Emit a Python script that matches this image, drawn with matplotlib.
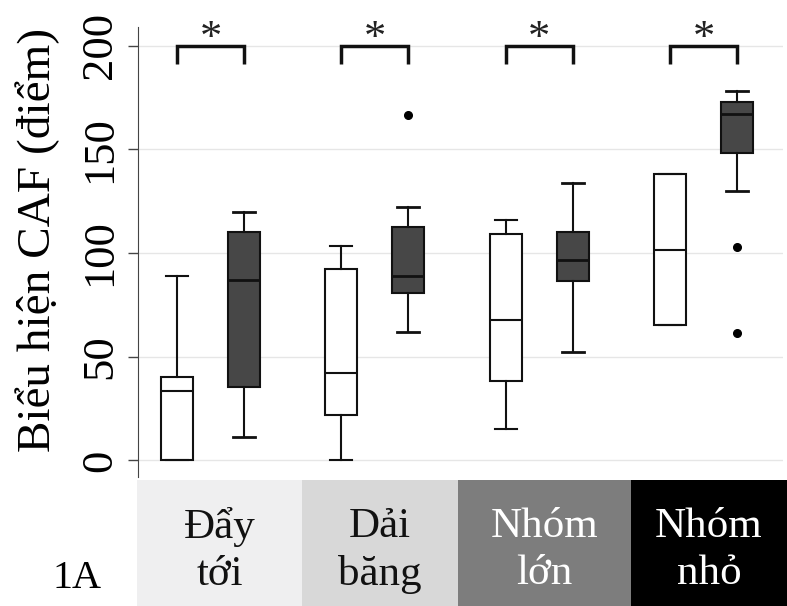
import matplotlib.pyplot as plt
from matplotlib.patches import Rectangle

plt.rcParams["font.family"] = ["Liberation Serif", "DejaVu Serif"]

groups = ["Đẩy\ntới", "Dải\nbăng", "Nhóm\nlớn", "Nhóm\nnhỏ"]
panel_colors = ["#efeff0", "#d8d8d8", "#7d7d7d", "#000000"]
label_colors = ["#111111", "#111111", "#ffffff", "#ffffff"]

# box statistics per group: (whislo, q1, med, q3, whishi)
white_stats = [
    (0, 0, 33.5, 40, 89),
    (0, 22, 42, 92.5, 103.5),
    (15, 38.5, 67.5, 109, 116),
    (65.5, 65.5, 101.5, 138, 138),
]
dark_stats = [
    (11.5, 35.5, 87, 110, 120),
    (62, 80.5, 89, 112.5, 122),
    (52.5, 86.5, 96.5, 110, 134),
    (130, 148, 167, 173, 178),
]
dark_fliers = [[], [166.5], [], [103, 61.5]]

yticks = [0, 50, 100, 150, 200]

W, H = 787, 606
fig = plt.figure(figsize=(W / 100, H / 100), dpi=100)
ax = fig.add_axes([138 / W, (H - 477) / H, (783 - 138) / W, 450 / H])

def make_stats(rows, fliers=None):
    out = []
    for i, (lo, q1, med, q3, hi) in enumerate(rows):
        out.append(dict(whislo=lo, q1=q1, med=med, q3=q3, whishi=hi,
                        fliers=fliers[i] if fliers else []))
    return out

centers = list(range(len(groups)))
off = 0.204
bw = 0.195
cw = 0.135

ax.bxp(make_stats(white_stats), positions=[c - off for c in centers],
       widths=bw, capwidths=cw, patch_artist=True, showfliers=False,
       boxprops=dict(facecolor="white", edgecolor="#111111", linewidth=1.5),
       medianprops=dict(color="#111111", linewidth=1.5),
       whiskerprops=dict(color="#111111", linewidth=1.5),
       capprops=dict(color="#111111", linewidth=1.5))
ax.bxp(make_stats(dark_stats, dark_fliers), positions=[c + off for c in centers],
       widths=bw, capwidths=cw, patch_artist=True, showfliers=True,
       boxprops=dict(facecolor="#474747", edgecolor="#111111", linewidth=1.5),
       medianprops=dict(color="#111111", linewidth=2),
       whiskerprops=dict(color="#111111", linewidth=1.5),
       capprops=dict(color="#111111", linewidth=2),
       flierprops=dict(marker="o", markerfacecolor="black",
                       markeredgecolor="black", markersize=5.5))

# significance brackets
for c in centers:
    x1, x2 = c - off, c + off
    ax.plot([x1, x1, x2, x2], [191, 200, 200, 191], color="#111111",
            linewidth=2.5, solid_capstyle="butt", solid_joinstyle="miter")
    ax.text(c, 203, "*", ha="center", va="center", fontsize=32,
            color="#222222")

ax.set_xlim(-0.441, 3.484)
ax.set_ylim(-8, 209)
ax.set_yticks(yticks)
ax.set_yticklabels([str(t) for t in yticks], rotation=90, va="center",
                   fontsize=32)
ax.tick_params(axis="y", length=7, width=1, color="#444444", pad=6)
ax.set_xticks([])
ax.grid(axis="y", color="#e6e6e6", linewidth=1)
ax.set_axisbelow(True)
for s in ["top", "right", "bottom"]:
    ax.spines[s].set_visible(False)
ax.spines["left"].set_color("#444444")
ax.set_ylabel("Biểu hiện CAF (điểm)", fontsize=34)
ax.yaxis.set_label_coords((60 - 138) / 645, (477 - 240) / 450)

# group label strip under the plot
panel_edges = [137, 302, 458, 631, 787]
pax = fig.add_axes([137 / W, 0, (787 - 137) / W, (H - 480) / H])
pax.set_xlim(panel_edges[0], panel_edges[-1])
pax.set_ylim(0, 1)
pax.axis("off")
for i, g in enumerate(groups):
    x0, x1 = panel_edges[i], panel_edges[i + 1]
    pax.add_patch(Rectangle((x0, 0), x1 - x0, 1, facecolor=panel_colors[i],
                            edgecolor="none"))
    pax.text((x0 + x1) / 2, 0.44, g, ha="center", va="center", fontsize=31,
             color=label_colors[i], linespacing=1.3)

fig.text(77 / W, (H - 578) / H, "1A", ha="center", va="center", fontsize=29)

fig.savefig("out.png", dpi=100)
